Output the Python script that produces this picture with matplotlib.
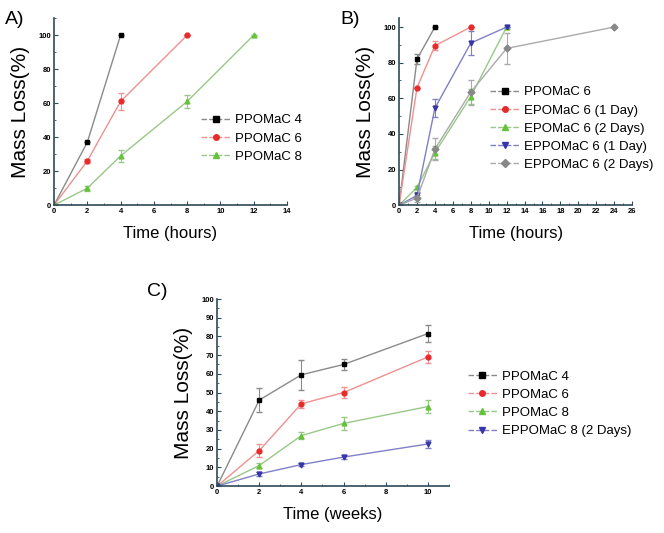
import matplotlib.pyplot as plt
from matplotlib.ticker import MultipleLocator
from matplotlib.lines import Line2D

plt.rcParams['font.family'] = ['Liberation Sans', 'DejaVu Sans']

# panel A
a_x = [[0, 2, 4], [0, 2, 4, 8], [0, 2, 4, 8, 12]]
a_y = [[0, 37, 100], [0, 26, 61, 100], [0, 10, 29, 61, 100]]
a_err = [[0, 0, 0], [0, 1, 5, 0], [0, 1.5, 3.5, 4, 0]]
a_labels = ['PPOMaC 4', 'PPOMaC 6', 'PPOMaC 8']

# panel B
b_x = [[0, 2, 4], [0, 2, 4, 8], [0, 2, 4, 8, 12], [0, 2, 4, 8, 12], [0, 2, 4, 8, 12, 24]]
b_y = [[0, 82, 100], [0, 66, 89.5, 100], [0, 10, 29.5, 61, 100],
       [0, 5.5, 54.5, 91, 100], [0, 4, 31.5, 63.5, 88, 100]]
b_err = [[0, 3, 0], [0, 0, 2.5, 0], [0, 1, 3.5, 4, 0],
         [0, 2, 5, 6.5, 0], [0, 2, 6, 7, 8.5, 0]]
b_labels = ['PPOMaC 6', 'EPOMaC 6 (1 Day)', 'EPOMaC 6 (2 Days)',
            'EPPOMaC 6 (1 Day)', 'EPPOMaC 6 (2 Days)']

# panel C
c_x = [0, 2, 4, 6, 10]
c_y = [[0, 46, 59.5, 65, 81.5], [0, 19, 44, 50, 69],
       [0, 11, 27, 33.5, 42.5], [0, 6.5, 11.5, 15.5, 22.5]]
c_err = [[0, 6.5, 8, 3, 4.5], [0, 3.5, 2, 3, 3],
         [0, 1.5, 2, 3.5, 3.5], [0, 1, 1, 1, 2]]
c_labels = ['PPOMaC 4', 'PPOMaC 6', 'PPOMaC 8', 'EPPOMaC 8 (2 Days)']

# marker / line styles (Origin look: strong markers, pale lines)
sty = {
    'black': dict(marker='s', mfc='#000000', line='#8a8a8a'),
    'red': dict(marker='o', mfc='#e82a2a', line='#f09090'),
    'green': dict(marker='^', mfc='#66c23a', line='#98c888'),
    'blue': dict(marker='v', mfc='#3636a8', line='#8080c8'),
    'gray': dict(marker='D', mfc='#888888', line='#aaaaaa'),
}
spine_col = '#2e4a58'


def draw(ax, xs, ys, errs, labels, keys):
    handles = []
    for x, y, e, lab, k in zip(xs, ys, errs, labels, keys):
        s = sty[k]
        ax.errorbar(x, y, yerr=e, color=s['line'], lw=1.0, marker=s['marker'],
                    mfc=s['mfc'], mec=s['mfc'], ms=3.5, ecolor=s['line'],
                    elinewidth=0.8, capsize=2)
        handles.append(Line2D([], [], color=s['line'], lw=1.0, ls=(0, (4, 1.5)),
                              marker=s['marker'], mfc=s['mfc'], mec=s['mfc'],
                              ms=4, label=lab))
    return handles


def style(ax, xmax, ymax, xmaj, ymaj):
    ax.set_xlim(0, xmax)
    ax.set_ylim(0, ymax)
    for sp in ['top', 'right']:
        ax.spines[sp].set_visible(False)
    for sp in ['left', 'bottom']:
        ax.spines[sp].set_color(spine_col)
        ax.spines[sp].set_linewidth(1.2)
    ax.xaxis.set_major_locator(MultipleLocator(xmaj))
    ax.xaxis.set_minor_locator(MultipleLocator(xmaj / 2))
    ax.yaxis.set_major_locator(MultipleLocator(ymaj))
    ax.yaxis.set_minor_locator(MultipleLocator(ymaj / 2))
    ax.tick_params(which='major', direction='in', length=3, color=spine_col,
                   labelsize=5.5, pad=2)
    ax.tick_params(which='minor', direction='in', length=1.5, color=spine_col)
    for t in ax.get_xticklabels() + ax.get_yticklabels():
        t.set_fontweight('bold')


leg_kw = dict(frameon=False, fontsize=9.5, handlelength=2.2,
              handletextpad=0.4, labelspacing=0.45)

fig = plt.figure(figsize=(6.64, 5.33), dpi=100)

axA = fig.add_axes([0.0813, 0.615, 0.351, 0.351])
h = draw(axA, a_x, a_y, a_err, a_labels, ['black', 'red', 'green'])
style(axA, 14, 110, 2, 20)
axA.set_yticks([0, 20, 40, 60, 80, 100])
axA.set_xlabel('Time (hours)', fontsize=12, labelpad=8)
axA.set_ylabel('Mass Loss(%)', fontsize=15, labelpad=6)
axA.legend(handles=h, loc='upper left', bbox_to_anchor=(0.58, 0.55), **leg_kw)
fig.text(0.008, 0.955, 'A)', fontsize=14)

axB = fig.add_axes([0.601, 0.615, 0.351, 0.351])
h = draw(axB, b_x, b_y, b_err, b_labels, ['black', 'red', 'green', 'blue', 'gray'])
style(axB, 26, 105, 2, 20)
axB.set_yticks([0, 20, 40, 60, 80, 100])
axB.set_xlabel('Time (hours)', fontsize=12, labelpad=8)
axB.set_ylabel('Mass Loss(%)', fontsize=15, labelpad=6)
axB.legend(handles=h, loc='upper left', bbox_to_anchor=(0.34, 0.70), **leg_kw)
fig.text(0.512, 0.955, 'B)', fontsize=14)

axC = fig.add_axes([0.327, 0.088, 0.349, 0.351])
h = draw(axC, [c_x] * 4, c_y, c_err, c_labels, ['black', 'red', 'green', 'blue'])
style(axC, 11, 100, 2, 10)
axC.xaxis.set_minor_locator(MultipleLocator(1))
axC.yaxis.set_minor_locator(MultipleLocator(5))
axC.set_xticks([0, 2, 4, 6, 8, 10])
axC.set_xlabel('Time (weeks)', fontsize=12, labelpad=8)
axC.set_ylabel('Mass Loss(%)', fontsize=15, labelpad=6)
axC.legend(handles=h, loc='center left', bbox_to_anchor=(1.03, 0.44), **leg_kw)
fig.text(0.222, 0.445, 'C)', fontsize=14)

fig.savefig('out.png', dpi=100)
